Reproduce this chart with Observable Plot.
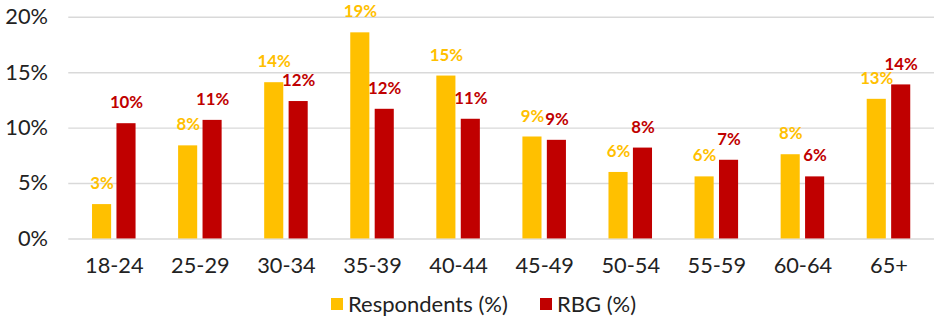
<!DOCTYPE html>
<html>
<head>
<meta charset="utf-8">
<script src="https://cdn.jsdelivr.net/npm/d3@7"></script>
<script src="https://cdn.jsdelivr.net/npm/@observablehq/plot@0.6"></script>
<style>
  html, body { margin: 0; padding: 0; background: #fff; }
  body { width: 934px; height: 317px; overflow: hidden; position: relative; font-family: Lato, "Open Sans", sans-serif; }
  #chart { position: absolute; left: 0; top: 0; }
  .legend-item { position: absolute; top: 290px; display: flex; align-items: center; font-size: 22px; color: #222; white-space: nowrap; }
  .legend-item .sw { width: 12px; height: 12px; margin-right: 5px; display: inline-block; }
</style>
</head>
<body>
<div id="chart"></div>
<div class="legend-item" id="leg0" style="left:331px"><span class="sw"></span><span class="lbl"></span></div>
<div class="legend-item" id="leg1" style="left:540px"><span class="sw"></span><span class="lbl"></span></div>
<script>
const ageGroups = ["18-24", "25-29", "30-34", "35-39", "40-44", "45-49", "50-54", "55-59", "60-64", "65+"];
const respondents = [3.1, 8.4, 14.1, 18.6, 14.7, 9.2, 6.0, 5.6, 7.6, 12.6];
const rbg = [10.4, 10.7, 12.4, 11.7, 10.8, 8.9, 8.2, 7.1, 5.6, 13.9];
const seriesNames = ["Respondents (%)", "RBG (%)"];
const seriesColors = ["#FFC000", "#C00000"];
const yTicks = [0, 5, 10, 15, 20];

const rows = [];
ageGroups.forEach((a, i) => {
  rows.push({age: a, series: seriesNames[0], value: respondents[i]});
  rows.push({age: a, series: seriesNames[1], value: rbg[i]});
});
const respRows = rows.filter(d => d.series === seriesNames[0]);
const rbgRows = rows.filter(d => d.series === seriesNames[1]);

const bw = 87.5 * (1 - 0.4926);
const barW = 19.7;
const inset = bw - barW;
const off = (bw - barW) / 2;

const chart = Plot.plot({
  width: 944,
  height: 290,
  marginLeft: 69,
  marginRight: 0,
  marginTop: 17,
  marginBottom: 49,
  style: {fontFamily: "Lato, 'Open Sans', sans-serif", color: "#222", background: "#fff"},
  x: {domain: ageGroups, paddingInner: 0.4926, paddingOuter: 0.2463, label: null},
  y: {domain: [0, 20], label: null},
  marks: [
    Plot.ruleY(yTicks, {stroke: "#d9d9d9", strokeWidth: 1.5}),
    Plot.barY(respRows, {x: "age", y: "value", fill: seriesColors[0], insetRight: inset}),
    Plot.barY(rbgRows, {x: "age", y: "value", fill: seriesColors[1], insetLeft: inset}),
    Plot.text(respRows, {x: "age", y: "value", text: d => Math.round(d.value) + "%", fill: seriesColors[0], dx: -off, dy: -21, fontWeight: "bold", fontSize: 17, lineAnchor: "middle"}),
    Plot.text(rbgRows, {x: "age", y: "value", text: d => Math.round(d.value) + "%", fill: seriesColors[1], dx: off, dy: -21, fontWeight: "bold", fontSize: 17, lineAnchor: "middle"}),
    Plot.axisY({ticks: yTicks, tickFormat: d => d + "%", tickSize: 0, tickPadding: 21, fontSize: 22, label: null}),
    Plot.axisX({tickSize: 0, tickPadding: 19, fontSize: 22, label: null})
  ]
});
document.getElementById("chart").appendChild(chart);

[0, 1].forEach(i => {
  const el = document.getElementById("leg" + i);
  el.querySelector(".sw").style.background = seriesColors[i];
  el.querySelector(".lbl").textContent = seriesNames[i];
});
</script>
</body>
</html>
